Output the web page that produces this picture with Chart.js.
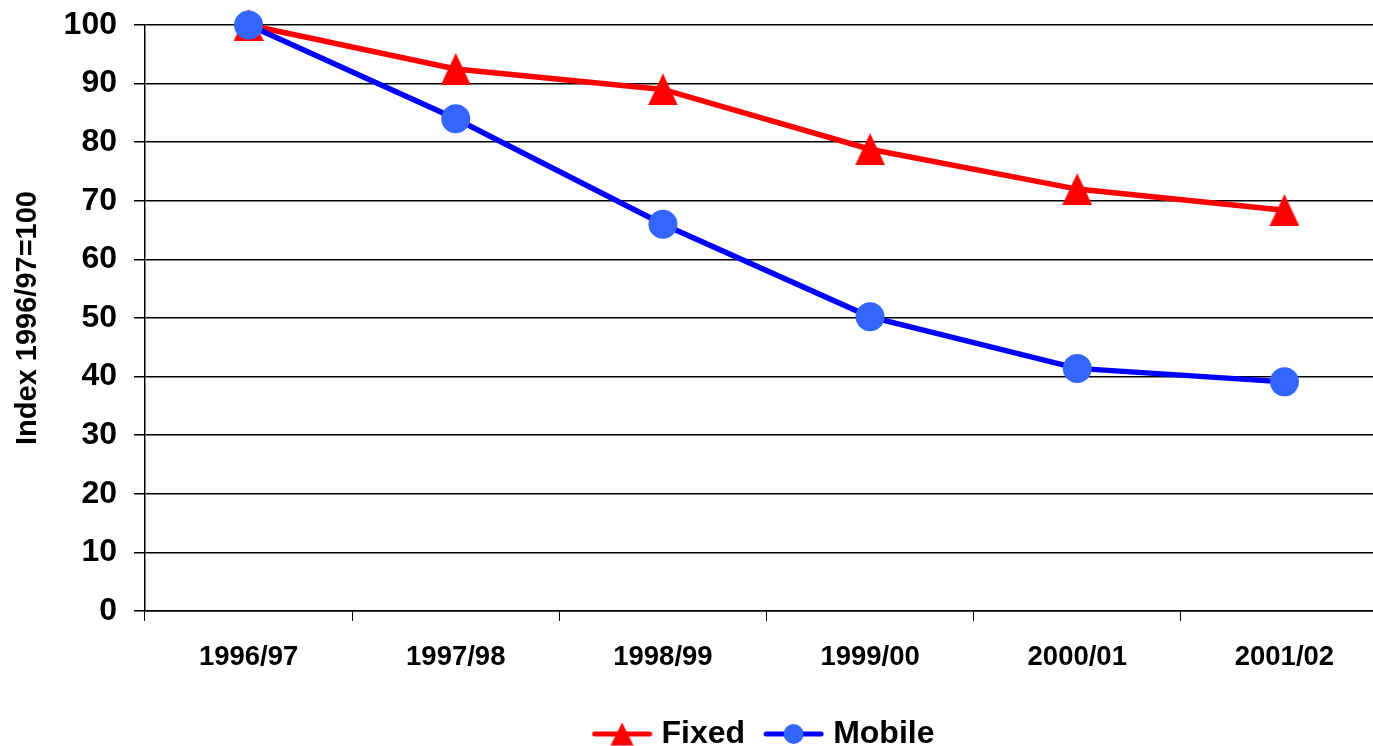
<!DOCTYPE html>
<html>
<head>
<meta charset="utf-8">
<script src="https://cdn.jsdelivr.net/npm/chart.js@4.4.1/dist/chart.umd.min.js"></script>
<style>
  html, body { margin: 0; padding: 0; background: #ffffff; overflow: hidden; width: 1373px; height: 746px; }
  #wrap { position: absolute; left: 0; top: 0; width: 1388px; height: 760px; }
</style>
</head>
<body>
<div id="wrap"><canvas id="chart" width="1388" height="760"></canvas></div>
<script>
// Price index per financial year (1996/97 = 100)
const years = ['1996/97', '1997/98', '1998/99', '1999/00', '2000/01', '2001/02'];
const fixedIndex = [100, 92.5, 89.0, 78.8, 72.0, 68.4];
const mobileIndex = [100, 84.0, 66.0, 50.2, 41.4, 39.1];
const seriesNames = ['Fixed', 'Mobile'];
const axisTitle = 'Index 1996/97=100';

const FONT = "'Liberation Sans', Arial, Helvetica, sans-serif";
const RED = '#ff0000';
const BLUE = '#0000ff';
const DOT = '#3366ff';

// Upright triangle marker filling its own bounding box
function triangleImage(w, h, color) {
  const c = document.createElement('canvas');
  c.width = w; c.height = h;
  const g = c.getContext('2d');
  g.fillStyle = color;
  g.beginPath();
  g.moveTo(w / 2, 0);
  g.lineTo(w, h);
  g.lineTo(0, h);
  g.closePath();
  g.fill();
  return c;
}

// Legend swatch: short line segment with the series marker in the middle
function legendSwatch(lineColor, kind, markerColor) {
  const w = 61, h = 24;
  const c = document.createElement('canvas');
  c.width = w; c.height = h;
  const g = c.getContext('2d');
  g.strokeStyle = lineColor;
  g.lineWidth = 5;
  g.lineCap = 'round';
  g.beginPath();
  g.moveTo(3, h / 2);
  g.lineTo(w - 3, h / 2);
  g.stroke();
  g.fillStyle = markerColor;
  g.beginPath();
  if (kind === 'triangle') {
    g.moveTo(w / 2, 0.5);
    g.lineTo(w / 2 + 11.5, h - 0.5);
    g.lineTo(w / 2 - 11.5, h - 0.5);
    g.closePath();
  } else {
    g.arc(w / 2, h / 2, 10, 0, Math.PI * 2);
  }
  g.fill();
  return c;
}

const triMarker = triangleImage(30, 32, RED);
const swatches = [
  legendSwatch(RED, 'triangle', RED),
  legendSwatch(BLUE, 'circle', DOT)
];

// Keep the plot area edges fixed; labels sit in the margins already
function noEdgePadding(s) {
  s.paddingTop = 0;
  s.paddingBottom = 0;
  s.paddingLeft = 0;
  s.paddingRight = 0;
}

new Chart(document.getElementById('chart'), {
  type: 'line',
  data: {
    labels: years,
    datasets: [
      {
        label: seriesNames[0],
        data: fixedIndex,
        borderColor: RED,
        borderWidth: 5.5,
        backgroundColor: RED,
        pointStyle: triMarker,
        pointRadius: 16,
        pointHoverRadius: 16,
        tension: 0,
        clip: false,
        order: 1
      },
      {
        label: seriesNames[1],
        data: mobileIndex,
        borderColor: BLUE,
        borderWidth: 5.5,
        backgroundColor: DOT,
        pointStyle: 'circle',
        pointRadius: 14.5,
        pointHoverRadius: 14.5,
        pointBackgroundColor: DOT,
        pointBorderColor: DOT,
        pointBorderWidth: 0,
        tension: 0,
        clip: false,
        order: 0
      }
    ]
  },
  options: {
    responsive: false,
    animation: false,
    devicePixelRatio: 1,
    layout: { autoPadding: false, padding: { top: 25, left: 0, right: 0, bottom: 0 } },
    plugins: {
      tooltip: { enabled: false },
      legend: {
        display: true,
        position: 'bottom',
        fullSize: false,
        labels: {
          usePointStyle: true,
          pointStyleWidth: 47,
          padding: 25,
          color: '#000000',
          font: { family: FONT, size: 32, weight: 'bold' },
          generateLabels: (chart) => chart.data.datasets.map((ds, i) => ({
            text: ds.label,
            datasetIndex: i,
            pointStyle: swatches[i],
            fillStyle: ds.borderColor,
            strokeStyle: ds.borderColor,
            lineWidth: 0,
            fontColor: '#000000',
            hidden: false
          }))
        }
      }
    },
    scales: {
      x: {
        type: 'category',
        offset: true,
        afterFit: (s) => { s.height = 82; noEdgePadding(s); },
        grid: {
          offset: true,
          drawOnChartArea: false,
          drawTicks: true,
          tickLength: 10,
          color: '#000000',
          lineWidth: 1
        },
        border: { display: true, color: '#000000', width: 1.5 },
        ticks: {
          color: '#000000',
          padding: 20,
          maxRotation: 0,
          autoSkip: false,
          font: { family: FONT, size: 27.5, weight: 'bold' }
        }
      },
      y: {
        min: 0,
        max: 100,
        afterFit: (s) => { s.width = 145; noEdgePadding(s); },
        grid: {
          color: '#000000',
          lineWidth: 1.5,
          drawTicks: true,
          tickLength: 11
        },
        border: { display: true, color: '#000000', width: 1.5 },
        ticks: {
          stepSize: 10,
          color: '#000000',
          padding: 17,
          font: { family: FONT, size: 32, weight: 'bold' }
        },
        title: {
          display: true,
          text: axisTitle,
          color: '#000000',
          padding: { top: 11, bottom: 0 },
          font: { family: FONT, size: 29, weight: 'bold' }
        }
      }
    }
  }
});
</script>
</body>
</html>
